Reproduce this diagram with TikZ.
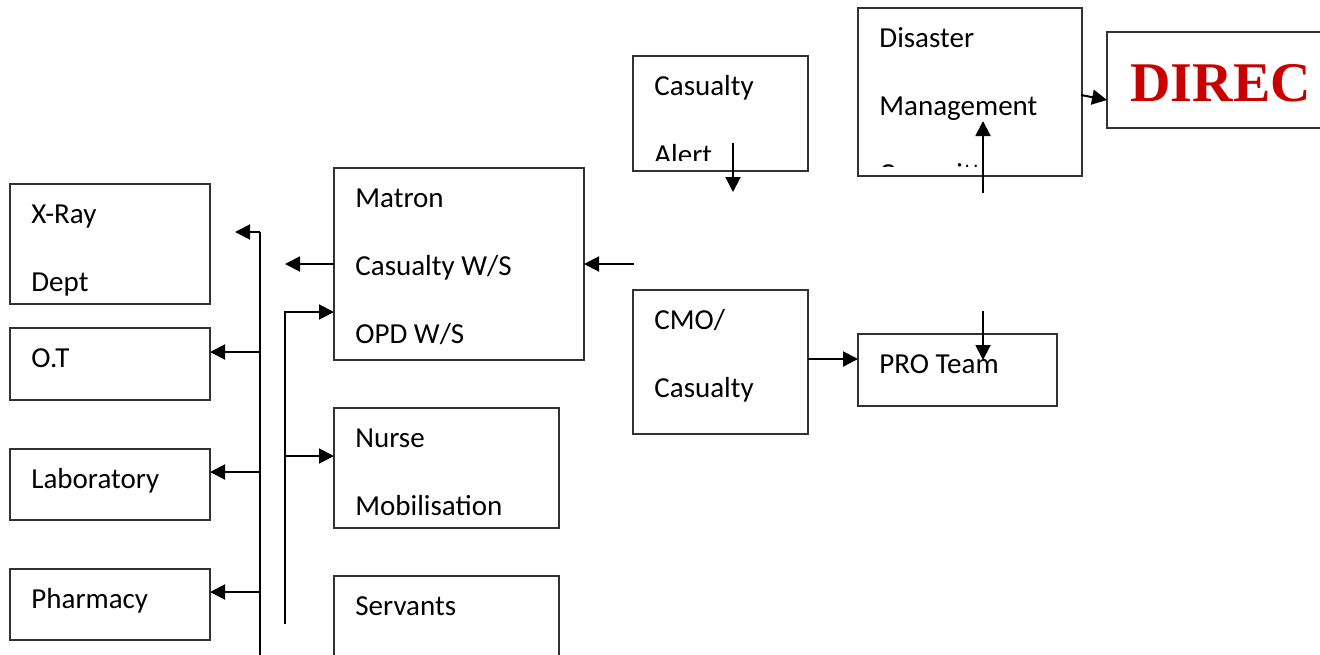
\documentclass[tikz,border=0pt]{standalone}
\usepackage{fontspec}
\setmainfont{Carlito}
\newfontfamily\direcfamily{Liberation Serif}
\usetikzlibrary{arrows.meta,calc}
\definecolor{direcred}{RGB}{200,0,0}
\definecolor{boxline}{RGB}{50,50,50}
\begin{document}
\begin{tikzpicture}[x=0.5pt,y=-0.5pt,
  box/.style={draw=boxline, line width=0.7pt, inner sep=0pt, outer sep=0pt, anchor=north west},
  txt/.style={anchor=base west, inner sep=0pt, font=\fontsize{14.5}{17}\selectfont},
  arr/.style={line width=1pt, -{Triangle[length=7.5pt,width=7.5pt]}},
  wire/.style={line width=1pt}]
\useasboundingbox (0,0) rectangle (1320,654);
\clip (0,0) rectangle (1320,654);

% department boxes on the left
\node[box, minimum width=100pt, minimum height=60pt]   (xray)  at (10,184) {};
\node[box, minimum width=100pt, minimum height=36pt]   (ot)    at (10,328) {};
\node[box, minimum width=100pt, minimum height=35.5pt] (lab)   at (10,449) {};
\node[box, minimum width=100pt, minimum height=35.5pt] (pharm) at (10,569) {};
\node[txt] (t-xray1) at (31,223) {X-Ray};
\node[txt] (t-xray2) at (31,291) {Dept};
\node[txt] (t-ot)    at (31,367) {O.T};
\node[txt] (t-lab)   at (31,488) {Laboratory};
\node[txt] (t-pharm) at (31,608) {Pharmacy};

% nursing column
\node[box, minimum width=125pt, minimum height=96pt]  (matron)   at (334,168) {};
\node[box, minimum width=112.5pt, minimum height=60pt] (nurse)    at (334,408) {};
\node[box, minimum width=112.5pt, minimum height=60pt] (servants) at (334,576) {};
\node[txt] (t-matron1) at (355,207) {Matron};
\node[txt] (t-matron2) at (355,275) {Casualty W/S};
\node[txt] (t-matron3) at (355,343) {OPD W/S};
\node[txt] (t-nurse1)  at (355,447) {Nurse};
\node[txt] (t-nurse2)  at (355,515) {Mobilisation};
\node[txt] (t-serv)    at (355,615) {Servants};

% casualty column
\node[box, minimum width=87.5pt, minimum height=57.5pt] (alert) at (633,56) {};
\begin{scope}
  \clip (633,56) rectangle (808,160);
  \node[txt] (t-alert1) at (654,95) {Casualty};
  \node[txt] (t-alert2) at (654,164) {Alert};
\end{scope}
\node[box, minimum width=87.5pt, minimum height=72pt] (cmo) at (633,290) {};
\node[txt] (t-cmo1) at (654,329) {CMO/};
\node[txt] (t-cmo2) at (654,397) {Casualty};

% management column
\node[box, minimum width=112pt, minimum height=84pt] (dmc) at (858,8) {};
\begin{scope}
  \clip (858,8) rectangle (1082,166);
  \node[txt] (t-dmc1) at (879,47) {Disaster};
  \node[txt] (t-dmc2) at (879,115) {Management};
  \node[txt] (t-dmc3) at (879,183) {Committee};
\end{scope}
\node[box, minimum width=99.5pt, minimum height=36pt] (pro) at (858,334) {};
\node[txt] (t-pro) at (879,373) {PRO Team};

\node[box, minimum width=150pt, minimum height=48pt] (direc) at (1107,32) {};
\node[anchor=base west, inner sep=0pt, text=direcred,
      font=\direcfamily\bfseries\fontsize{28}{31}\selectfont] (t-direc) at (1130,101) {DIREC};

% connector end points
\coordinate (busL-top) at (260,232);
\coordinate (busL-end) at (260,670);
\coordinate (busL-tip) at (235,232);
\coordinate (busR-bot) at (285,624);
\coordinate (busR-top) at (285,312);
\coordinate (matron-out) at (285,264);
\coordinate (cas-in) at (634,264);
\coordinate (alert-a) at (733,143);
\coordinate (alert-b) at (733,192);
\coordinate (dmc-a) at (983,193);
\coordinate (dmc-b) at (983,121);
\coordinate (pro-a) at (983,311);
\coordinate (pro-b) at (983,360);

% left distribution line
\draw[wire] (busL-end) -- (busL-top);
\draw[arr] (busL-top) -- (busL-tip);
\draw[arr] ($(ot.east)+(50,-12)$) -- ($(ot.east)+(0,-12)$);
\draw[arr] ($(lab.east)+(50,-12.5)$) -- ($(lab.east)+(0,-12.5)$);
\draw[arr] ($(pharm.east)+(50,-12.5)$) -- ($(pharm.east)+(0,-12.5)$);

% nursing feed line
\draw[arr] (busR-bot) -- (busR-top) -- (busR-top -| matron.west);
\draw[arr] ($(busR-top)+(0,144)$) -- ($(nurse.west)+(0,-12)$);
\draw[arr] (matron.west) -- (matron-out);
\draw[arr] (cas-in) -- (matron.east);

% casualty and management arrows
\draw[arr] (alert-a) -- (alert-b);
\draw[arr] ($(cmo.east)+(0,-3)$) -- ($(cmo.east)+(50,-3)$);
\draw[arr] (dmc-a) -- (dmc-b);
\draw[arr] (pro-a) -- (pro-b);
\draw[arr] (1081,95) -- ($(direc.west)+(0,20)$);
\end{tikzpicture}
\end{document}
